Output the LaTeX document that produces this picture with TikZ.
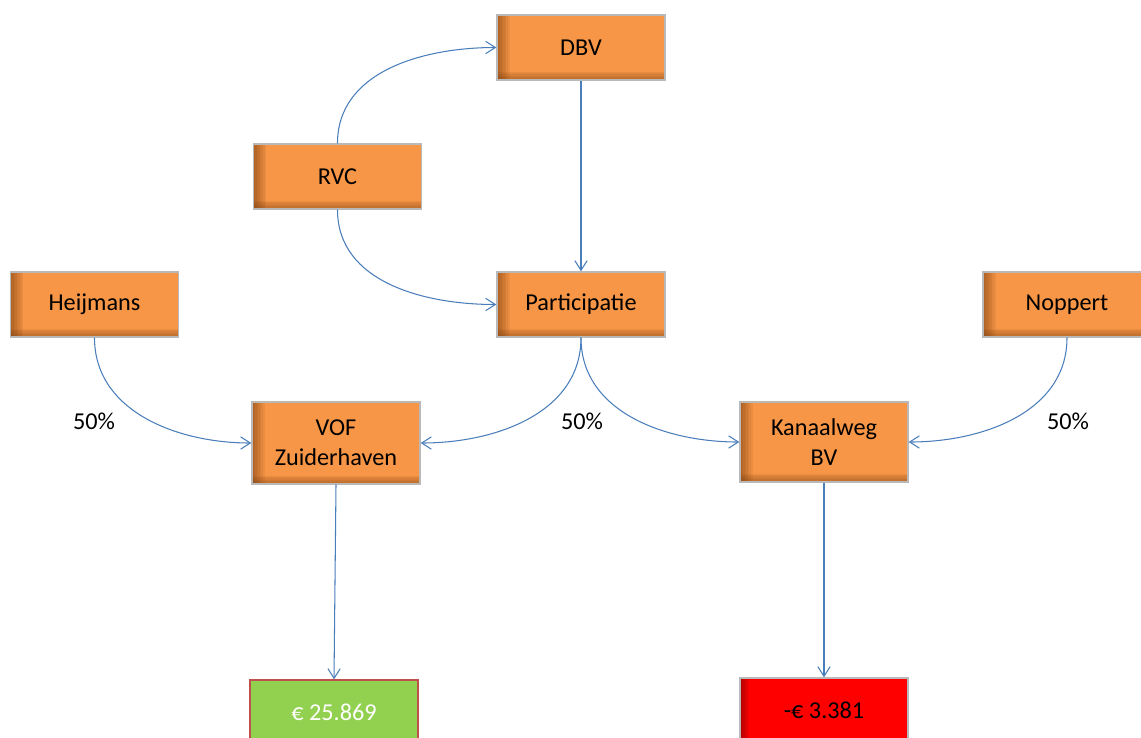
\documentclass[tikz,border=0pt]{standalone}
\usepackage{fontspec}
\setmainfont{Carlito}
\usepackage{tikz}
\usetikzlibrary{arrows.meta}
\definecolor{boxorange}{RGB}{247,150,70}
\definecolor{boxshade}{RGB}{120,60,15}
\definecolor{linkblue}{RGB}{74,126,187}
\definecolor{plusgreen}{RGB}{146,208,80}
\definecolor{minusred}{RGB}{255,0,0}
\definecolor{minusshade}{RGB}{110,0,0}
\definecolor{edgered}{RGB}{192,80,77}

\begin{document}
\begin{tikzpicture}[
    font=\fontsize{13.8}{17}\selectfont,
    entity/.style={draw=gray!55, line width=0.8pt, fill=#1, inner sep=0pt,
        minimum width=3.36cm, minimum height=1.3cm, align=center,
        path picture={
            \foreach \k in {1,...,8}
                \fill[boxshade, opacity=0.09]
                    (path picture bounding box.south west) rectangle
                    ([xshift=\k*0.9pt]path picture bounding box.north west);
            \foreach \k in {1,...,6}
                \fill[boxshade, opacity=0.09]
                    (path picture bounding box.south west) rectangle
                    ([yshift=\k*0.8pt]path picture bounding box.south east);
        }},
    entity/.default=boxorange,
    share/.style={draw=linkblue, line width=0.6pt,
        -{Straight Barb[length=5.5pt,width=7pt]}},
    pct/.style={inner sep=0pt}
]
\useasboundingbox (0,0) rectangle (22.82,-14.74);

\node[entity] (dbv) at (11.62,-0.95) {DBV};
\node[entity] (rvc) at (6.75,-3.53) {RVC};
\node[entity] (part) at (11.62,-6.09) {Participatie};
\node[entity] (heij) at (1.89,-6.09) {Heijmans};
\node[entity] (nopp) at (21.34,-6.09) {Noppert};
\node[entity, minimum height=1.64cm] (vof) at (6.72,-8.86) {VOF\\Zuiderhaven};
\node[entity, minimum height=1.6cm] (kan) at (16.48,-8.84) {Kanaalweg\\BV};

\node[draw=edgered, line width=0.8pt, fill=plusgreen, text=white, inner sep=0pt,
    minimum width=3.36cm, minimum height=1.3cm] (vofres) at (6.68,-14.25) {€ 25.869};
\node[entity=minusred, path picture={
        \foreach \k in {1,...,6}
            \fill[minusshade, opacity=0.1]
                (path picture bounding box.south west) rectangle
                ([xshift=\k*0.9pt]path picture bounding box.north west);}]
    (kanres) at (16.48,-14.21) {-€ 3.381};

\node[pct] (p1) at (1.88,-8.42) {50\%};
\node[pct] (p2) at (11.64,-8.42) {50\%};
\node[pct] (p3) at (21.36,-8.42) {50\%};

\draw[share] (rvc.north) to[out=90, in=180] (dbv.west);
\draw[share] (rvc.south) to[out=-90, in=180] (part.west);
\draw[share] (dbv.south) -- (part.north);
\draw[share] (heij.south) to[out=-90, in=180] (vof.west);
\draw[share] (part.south) to[out=-90, in=0] (vof.east);
\draw[share] (part.south) to[out=-90, in=180] (kan.west);
\draw[share] (nopp.south) to[out=-90, in=0] (kan.east);
\draw[share] (vof.south) -- (vofres.north);
\draw[share] (kan.south) -- (kanres.north);
\end{tikzpicture}
\end{document}
